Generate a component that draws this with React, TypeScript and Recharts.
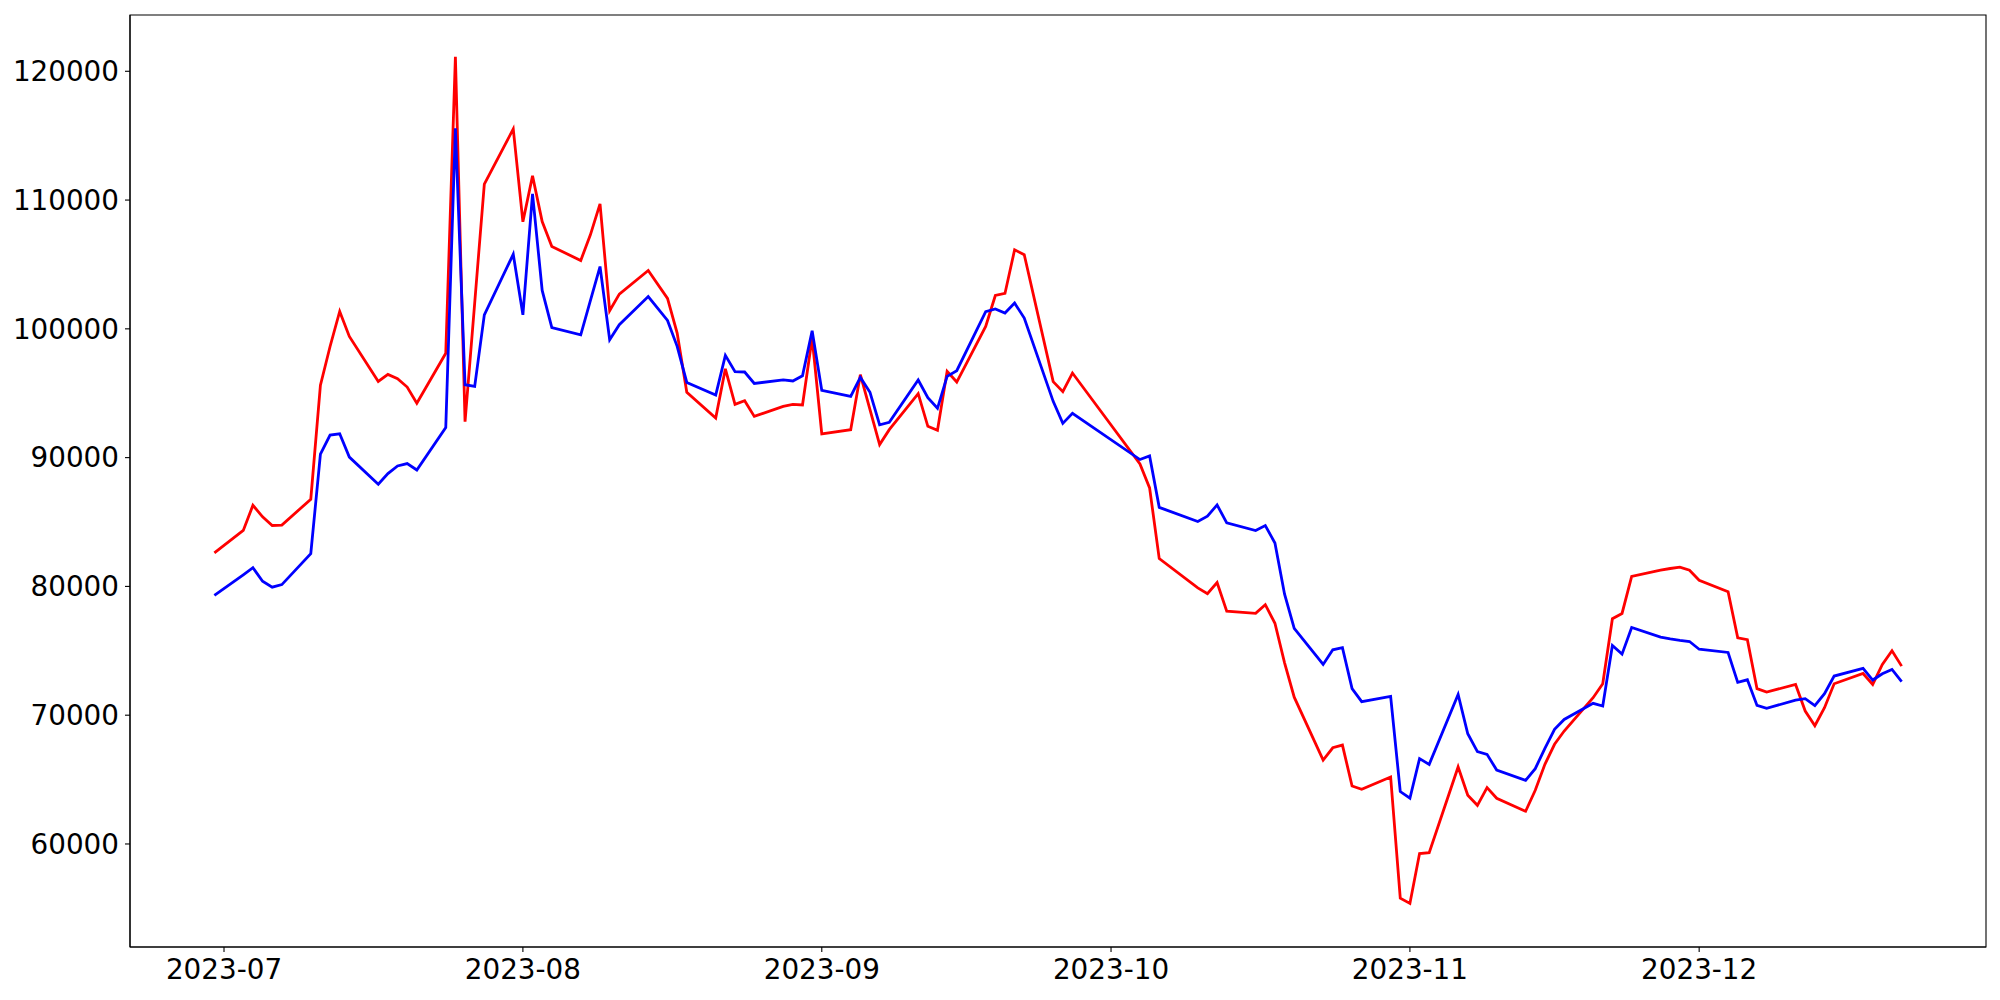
import React from "react";
import { LineChart, Line, XAxis, YAxis, ReferenceArea } from "recharts";

const dates: string[] = [
  "2023-06-30",
  "2023-07-03", "2023-07-04", "2023-07-05", "2023-07-06", "2023-07-07",
  "2023-07-10", "2023-07-11", "2023-07-12", "2023-07-13", "2023-07-14",
  "2023-07-17", "2023-07-18", "2023-07-19", "2023-07-20", "2023-07-21",
  "2023-07-24", "2023-07-25", "2023-07-26", "2023-07-27", "2023-07-28",
  "2023-07-31", "2023-08-01", "2023-08-02", "2023-08-03", "2023-08-04",
  "2023-08-07", "2023-08-08", "2023-08-09", "2023-08-10", "2023-08-11",
  "2023-08-14", "2023-08-16", "2023-08-17", "2023-08-18",
  "2023-08-21", "2023-08-22", "2023-08-23", "2023-08-24", "2023-08-25",
  "2023-08-28", "2023-08-29", "2023-08-30", "2023-08-31", "2023-09-01",
  "2023-09-04", "2023-09-05", "2023-09-06", "2023-09-07", "2023-09-08",
  "2023-09-11", "2023-09-12", "2023-09-13", "2023-09-14", "2023-09-15",
  "2023-09-18", "2023-09-19", "2023-09-20", "2023-09-21", "2023-09-22",
  "2023-09-25", "2023-09-26", "2023-09-27",
  "2023-10-04", "2023-10-05", "2023-10-06",
  "2023-10-10", "2023-10-11", "2023-10-12", "2023-10-13",
  "2023-10-16", "2023-10-17", "2023-10-18", "2023-10-19", "2023-10-20",
  "2023-10-23", "2023-10-24", "2023-10-25", "2023-10-26", "2023-10-27",
  "2023-10-30", "2023-10-31", "2023-11-01", "2023-11-02", "2023-11-03",
  "2023-11-06", "2023-11-07", "2023-11-08", "2023-11-09", "2023-11-10",
  "2023-11-13", "2023-11-14", "2023-11-15", "2023-11-16", "2023-11-17",
  "2023-11-20", "2023-11-21", "2023-11-22", "2023-11-23", "2023-11-24",
  "2023-11-27", "2023-11-28", "2023-11-29", "2023-11-30", "2023-12-01",
  "2023-12-04", "2023-12-05", "2023-12-06", "2023-12-07", "2023-12-08",
  "2023-12-11", "2023-12-12", "2023-12-13", "2023-12-14", "2023-12-15",
  "2023-12-18", "2023-12-19", "2023-12-20", "2023-12-21", "2023-12-22",
];

const redSeries: number[] = [
  82600,
  84350, 86300, 85400, 84730, 84760,
  86770, 95620, 98630, 101350, 99410,
  95920, 96460, 96130, 95480, 94220,
  98100, 121130, 92790, 102000, 111240,
  115520, 108310, 111880, 108330, 106390,
  105310, 107300, 109700, 101400, 102700,
  104530, 102360, 99670, 95070,
  93080, 96900, 94140, 94420, 93200,
  93980, 94140, 94090, 99290, 91840,
  92170, 96440, 93720, 91010, 92170,
  94970, 92430, 92120, 96700, 95870,
  100190, 102590, 102750, 106140, 105750,
  95900, 95120, 96570,
  89510, 87650, 82160,
  79890, 79430, 80300, 78080,
  77910, 78580, 77140, 74070, 71400,
  66520, 67470, 67680, 64500, 64240,
  65200, 55790, 55380, 59260, 59330,
  65980, 63780, 63000, 64380, 63550,
  62540, 64170, 66180, 67740, 68770,
  71360, 72440, 77490, 77900, 80770,
  81260, 81390, 81490, 81260, 80480,
  79580, 76010, 75860, 72060, 71790,
  72390, 70320, 69180, 70580, 72440,
  73240, 72390, 73940, 75000, 73810,
];

const blueSeries: number[] = [
  79300,
  80900, 81450, 80400, 79940, 80140,
  82540, 90270, 91750, 91850, 90040,
  87930, 88760, 89350, 89540, 89040,
  92330, 115580, 95660, 95530, 101080,
  105790, 101090, 110480, 102980, 100090,
  99540, 102200, 104840, 99150, 100320,
  102510, 100650, 98640, 95840,
  94860, 97940, 96670, 96650, 95760,
  96030, 95950, 96360, 99850, 95220,
  94760, 96230, 95070, 92540, 92740,
  96030, 94650, 93830, 96310, 96750,
  101330, 101540, 101230, 102000, 100840,
  94370, 92660, 93440,
  89850, 90130, 86140,
  85040, 85450, 86330, 84930,
  84340, 84720, 83370, 79400, 76750,
  73940, 75080, 75240, 72060, 71050,
  71460, 64070, 63550, 66630, 66180,
  71610, 68560, 67170, 66960, 65740,
  64940, 65850, 67420, 68900, 69670,
  70920, 70710, 75410, 74740, 76810,
  76060, 75920, 75810, 75720, 75120,
  74870, 72550, 72750, 70760, 70530,
  71170, 71280, 70740, 71670, 73040,
  73630, 72730, 73220, 73550, 72600,
];

const xTickLabels: string[] = ["2023-07", "2023-08", "2023-09", "2023-10", "2023-11", "2023-12"];
const yTicks: number[] = [60000, 70000, 80000, 90000, 100000, 110000, 120000];

const toTs = (s: string) => {
  const [y, m, d] = s.split("-").map(Number);
  return Date.UTC(y, m - 1, d || 1);
};

const data = dates.map((d, i) => ({ t: toTs(d), red: redSeries[i], blue: blueSeries[i] }));
const tFirst = data[0].t;
const tLast = data[data.length - 1].t;
const pad = (tLast - tFirst) * 0.05;
const xDomain: [number, number] = [tFirst - pad, tLast + pad];
const yDomain: [number, number] = [52000, 124370];
const xTicks = xTickLabels.map((s) => toTs(s + "-01"));

const fmtX = (v: number) => {
  const d = new Date(v);
  const m = d.getUTCMonth() + 1;
  return `${d.getUTCFullYear()}-${m < 10 ? "0" + m : m}`;
};

const tickStyle = { fontFamily: "DejaVu Sans", fontSize: 27.8, fill: "#000" };

export default function App() {
  return (
    <div style={{ width: 1984, height: 984 }}>
      <LineChart
        width={1984}
        height={984}
        data={data}
        margin={{ top: 7, right: 6, bottom: 0, left: 0 }}
      >
        <XAxis
          dataKey="t"
          type="number"
          domain={xDomain}
          allowDataOverflow
          ticks={xTicks}
          tickFormatter={fmtX}
          height={45}
          tick={tickStyle}
          tickSize={5}
          tickMargin={7}
          axisLine={{ stroke: "#000", strokeWidth: 1.1 }}
          tickLine={{ stroke: "#000", strokeWidth: 1.1 }}
          interval={0}
        />
        <YAxis
          type="number"
          domain={yDomain}
          allowDataOverflow
          ticks={yTicks}
          width={122}
          tick={tickStyle}
          tickSize={5}
          tickMargin={6}
          axisLine={{ stroke: "#000", strokeWidth: 1.1 }}
          tickLine={{ stroke: "#000", strokeWidth: 1.1 }}
          interval={0}
        />
        <ReferenceArea
          x1={xDomain[0]}
          x2={xDomain[1]}
          y1={yDomain[0]}
          y2={yDomain[1]}
          fill="none"
          stroke="#000"
          strokeWidth={1.1}
          ifOverflow="visible"
        />
        <Line
          type="linear"
          dataKey="red"
          stroke="#ff0000"
          strokeWidth={2.8}
          dot={false}
          activeDot={false}
          isAnimationActive={false}
        />
        <Line
          type="linear"
          dataKey="blue"
          stroke="#0000ff"
          strokeWidth={2.8}
          dot={false}
          activeDot={false}
          isAnimationActive={false}
        />
      </LineChart>
    </div>
  );
}
